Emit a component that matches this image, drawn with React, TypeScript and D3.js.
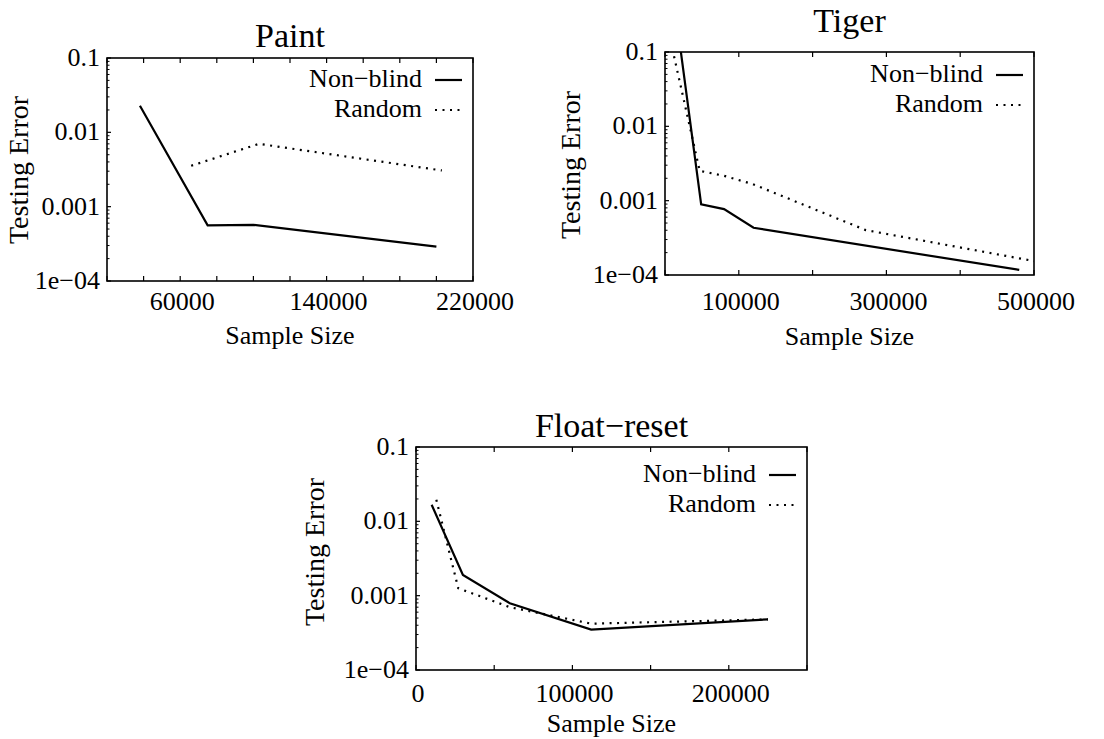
import React from 'react';
import * as d3 from 'd3';

// values
const paintNonBlindX = [38000, 75000, 100000, 200000];
const paintNonBlindY = [0.0228, 0.00056, 0.00057, 0.00029];
const paintRandomX = [66000, 103000, 203000];
const paintRandomY = [0.00355, 0.007, 0.00307];
const paintXLabels = [60000, 140000, 220000];

const tigerNonBlindX = [20000, 49000, 80000, 120000, 480000];
const tigerNonBlindY = [0.13, 0.00089, 0.00077, 0.000432, 0.000117];
const tigerRandomX = [10000, 47000, 80000, 119000, 272000, 500000];
const tigerRandomY = [0.11, 0.00252, 0.00216, 0.00167, 0.000402, 0.000154];
const tigerXLabels = [100000, 300000, 500000];

const floatNonBlindX = [10000, 30000, 60000, 112000, 225000];
const floatNonBlindY = [0.0167, 0.0019, 0.00079, 0.00035, 0.00048];
const floatRandomX = [13000, 27000, 60000, 112000, 225000];
const floatRandomY = [0.0195, 0.00126, 0.0007, 0.00042, 0.00048];
const floatXLabels = [0, 100000, 200000];

const yTickValues = [0.1, 0.01, 0.001, 0.0001];
const yTickLabels = ['0.1', '0.01', '0.001', '1e\u221204'];
const seriesNames = ['Non\u2212blind', 'Random'];

const font = '"Liberation Serif", "Times New Roman", serif';

type Cfg = {
  id: string;
  title: string;
  left: number; top: number; width: number; height: number;
  xDomain: [number, number];
  xStep: number;
  xLabels: number[];
  nbX: number[]; nbY: number[];
  rX: number[]; rY: number[];
  titleY: number;
  xLabelY: number;
  xTitleY: number;
  yTitleX: number;
  yTitleY: number;
  legTop: number;
};

const panels: Cfg[] = [
  {
    id: 'paint', title: 'Paint', left: 107, top: 58, width: 366, height: 223,
    xDomain: [20000, 220000], xStep: 20000, xLabels: paintXLabels,
    nbX: paintNonBlindX, nbY: paintNonBlindY, rX: paintRandomX, rY: paintRandomY,
    titleY: 47, xLabelY: 310, xTitleY: 344, yTitleX: 28, yTitleY: 170, legTop: 87,
  },
  {
    id: 'tiger', title: 'Tiger', left: 665, top: 52, width: 369, height: 223,
    xDomain: [0, 500000], xStep: 100000, xLabels: tigerXLabels,
    nbX: tigerNonBlindX, nbY: tigerNonBlindY, rX: tigerRandomX, rY: tigerRandomY,
    titleY: 32, xLabelY: 310, xTitleY: 345, yTitleX: 580, yTitleY: 165, legTop: 82,
  },
  {
    id: 'float', title: 'Float\u2212reset', left: 416, top: 447, width: 391, height: 223,
    xDomain: [0, 250000], xStep: 50000, xLabels: floatXLabels,
    nbX: floatNonBlindX, nbY: floatNonBlindY, rX: floatRandomX, rY: floatRandomY,
    titleY: 437, xLabelY: 702, xTitleY: 732, yTitleX: 324, yTitleY: 552, legTop: 482,
  },
];

const Panel = ({ p }: { p: Cfg }) => {
  const right = p.left + p.width;
  const bottom = p.top + p.height;
  const x = d3.scaleLinear().domain(p.xDomain).range([p.left, right]);
  const y = d3.scaleLog().domain([0.0001, 0.1]).range([bottom, p.top]);
  const path = (xs: number[], ys: number[]) =>
    d3.line<number>().x((d) => x(d)).y((_, i) => y(ys[i]))(xs) || '';

  const xTicks = d3.range(p.xDomain[0], p.xDomain[1] + 1, p.xStep);
  const minor: number[] = [];
  [0.0001, 0.001, 0.01].forEach((d) => {
    for (let k = 2; k <= 9; k++) minor.push(d * k);
  });

  return (
    <g>
      <defs>
        <clipPath id={`clip-${p.id}`}>
          <rect x={p.left} y={p.top} width={p.width} height={p.height} />
        </clipPath>
      </defs>
      <text x={(p.left + right) / 2} y={p.titleY} textAnchor="middle" fontSize={34}>{p.title}</text>
      {xTicks.map((t) => (
        <g key={'xt' + t}>
          <line x1={x(t)} x2={x(t)} y1={bottom} y2={bottom - 5} stroke="#000" strokeWidth={1.2} />
          <line x1={x(t)} x2={x(t)} y1={p.top} y2={p.top + 5} stroke="#000" strokeWidth={1.2} />
        </g>
      ))}
      {yTickValues.map((t) => (
        <line key={'yt' + t} x1={p.left} x2={p.left + 4} y1={y(t)} y2={y(t)} stroke="#000" strokeWidth={1.2} />
      ))}
      {minor.map((t) => (
        <line key={'ym' + t} x1={p.left} x2={p.left + 2.5} y1={y(t)} y2={y(t)} stroke="#000" strokeWidth={1} />
      ))}
      {yTickValues.map((t, i) => (
        <text key={'yl' + t} x={p.left - 7} y={y(t) + 8} textAnchor="end" fontSize={26}>{yTickLabels[i]}</text>
      ))}
      {p.xLabels.map((t) => (
        <text key={'xl' + t} x={x(t) + 2} y={p.xLabelY} textAnchor="middle" fontSize={26}>{t}</text>
      ))}
      <text x={(p.left + right) / 2} y={p.xTitleY} textAnchor="middle" fontSize={26}>Sample Size</text>
      <text transform={`translate(${p.yTitleX},${p.yTitleY}) rotate(-90)`} textAnchor="middle" fontSize={28}>Testing Error</text>
      <g clipPath={`url(#clip-${p.id})`}>
        <path d={path(p.nbX, p.nbY)} fill="none" stroke="#000" strokeWidth={2.2} />
        <path d={path(p.rX, p.rY)} fill="none" stroke="#000" strokeWidth={2.2} strokeDasharray="2 5.5" />
      </g>
      {seriesNames.map((s, i) => (
        <g key={s}>
          <text x={right - 51} y={p.legTop + i * 30} textAnchor="end" fontSize={26}>{s}</text>
          <line x1={right - 38} x2={right - 11} y1={p.legTop + i * 30 - 7} y2={p.legTop + i * 30 - 7}
            stroke="#000" strokeWidth={2.2} strokeDasharray={i === 1 ? '2 5.5' : undefined} />
        </g>
      ))}
      <rect x={p.left} y={p.top} width={p.width} height={p.height} fill="none" stroke="#000" strokeWidth={1.6} />
    </g>
  );
};

export default function App() {
  return (
    <svg width={1104} height={739} style={{ position: 'absolute', left: 0, top: 0, background: '#fff' }}
      fontFamily={font}>
      <rect width={1104} height={739} fill="#fff" />
      {panels.map((p) => <Panel key={p.id} p={p} />)}
    </svg>
  );
}
